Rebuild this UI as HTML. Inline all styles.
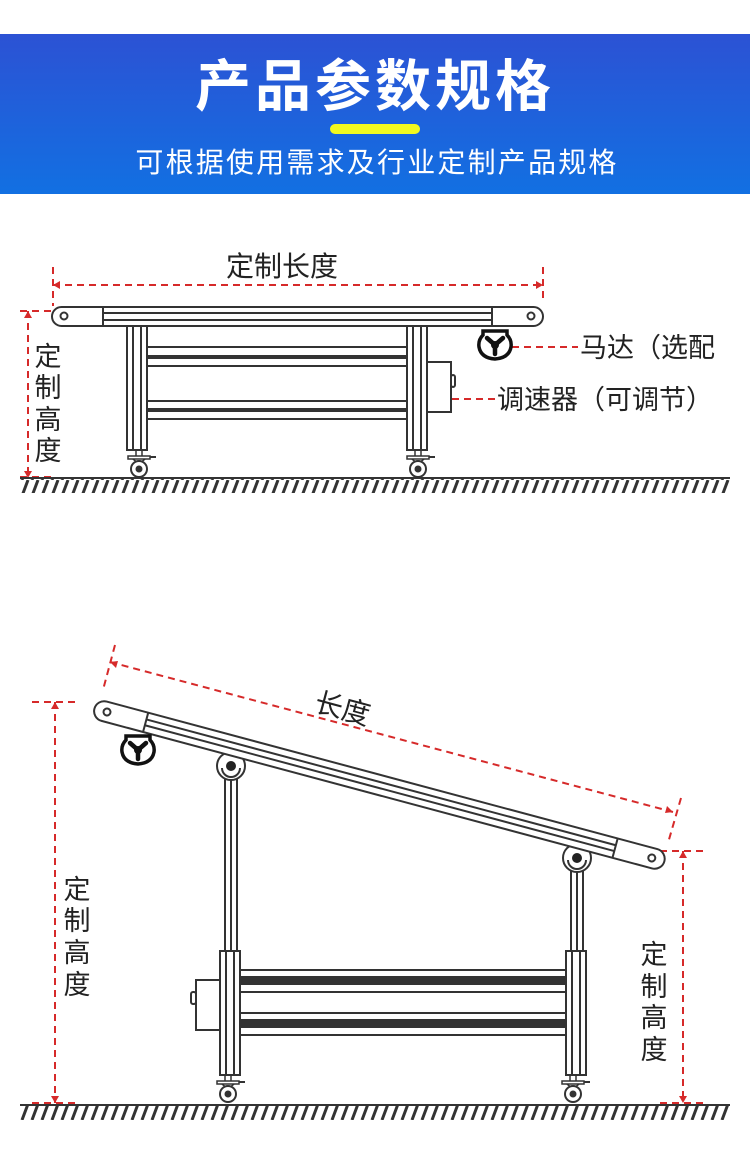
<!DOCTYPE html>
<html><head><meta charset="utf-8"><style>
html,body{margin:0;padding:0;background:#fff;}
svg{display:block;}
text{font-family:"Liberation Sans","Noto Sans CJK SC",sans-serif;}
</style></head><body>
<svg width="750" height="1168" viewBox="0 0 750 1168" xmlns="http://www.w3.org/2000/svg">
<defs>
<linearGradient id="hg" x1="0" y1="0" x2="0" y2="1"><stop offset="0" stop-color="#2c52d4"/><stop offset="1" stop-color="#1270e2"/></linearGradient>
<pattern id="hatch" width="10" height="16" patternUnits="userSpaceOnUse"><line x1="2" y1="16" x2="8" y2="0" stroke="#333" stroke-width="3"/></pattern>
<g id="caster">
<line x1="-3" y1="0" x2="-3" y2="6" stroke="#333" stroke-width="1.5"/><line x1="3" y1="0" x2="3" y2="6" stroke="#333" stroke-width="1.5"/>
<rect x="-11" y="6" width="22" height="3" fill="#fff" stroke="#333" stroke-width="1.5"/>
<line x1="11" y1="7" x2="17" y2="7" stroke="#333" stroke-width="2"/>
<path d="M-6 9 L0 14 L6 9" fill="none" stroke="#333" stroke-width="1.5"/>
<circle cx="0" cy="19" r="8" fill="#fff" stroke="#333" stroke-width="2"/><circle cx="0" cy="19" r="3.5" fill="#333"/>
</g>
<g id="motor">
<path d="M-12 -13 L12 -13 L12 -9 Q17 -4 16 3 Q14 14 0 15 Q-14 14 -16 3 Q-17 -4 -12 -9 Z" fill="#fff" stroke="#111" stroke-width="3.5"/>
<path d="M0 1 L-8 -6 M0 1 L8 -6 M0 1 L0 10" stroke="#111" stroke-width="4.5" stroke-linecap="round"/>
<circle cx="0" cy="1" r="4" fill="#111"/>
</g>
<g id="pivot">
<circle cx="0" cy="0" r="14" fill="#fff" stroke="#333" stroke-width="2"/>
<path d="M-9 2 A9 9 0 0 0 9 2" fill="none" stroke="#333" stroke-width="2"/>
<circle cx="0" cy="0" r="5" fill="#222"/>
</g>
</defs>
<rect x="0" y="34" width="750" height="160" fill="url(#hg)"/>
<text x="375" y="106" font-size="56" font-weight="bold" fill="#fff" text-anchor="middle" letter-spacing="4">产品参数规格</text>
<rect x="330" y="124" width="90" height="10" rx="5" fill="#f2f91f"/>
<text x="377" y="172" font-size="28" fill="#fff" text-anchor="middle" letter-spacing="2.2">可根据使用需求及行业定制产品规格</text>

<g stroke="#d62a2a" stroke-width="2" stroke-dasharray="7,5" fill="none">
<line x1="53" y1="285" x2="543" y2="285"/>
<line x1="53" y1="267" x2="53" y2="306"/>
<line x1="543" y1="267" x2="543" y2="300"/>
<line x1="28" y1="311" x2="28" y2="478"/>
<line x1="20" y1="311" x2="52" y2="311"/>
<line x1="20" y1="477" x2="52" y2="477"/>
<line x1="512" y1="347" x2="578" y2="347"/>
<line x1="452" y1="399" x2="497" y2="399"/>
</g>
<g fill="#d62a2a"><path d="M53 285 l7 -4 v8z"/><path d="M543 285 l-7 -4 v8z"/><path d="M28 311 l-4 7 h8z"/><path d="M28 478 l-4 -7 h8z"/></g>
<text x="282" y="276" font-size="28" fill="#222" text-anchor="middle">定制长度</text>
<g font-size="27" fill="#222" text-anchor="middle"><text x="48" y="366">定</text><text x="48" y="397">制</text><text x="48" y="429">高</text><text x="48" y="460">度</text></g>
<text x="580" y="357" font-size="27" fill="#222">马达（选配</text>
<text x="497" y="409" font-size="27" fill="#222">调速器（可调节）</text>
<g stroke="#333" stroke-width="2" fill="#fff">
<rect x="127" y="326" width="20" height="124"/><line x1="133" y1="326" x2="133" y2="450"/><line x1="141" y1="326" x2="141" y2="450"/>
<rect x="407" y="326" width="20" height="124"/><line x1="413" y1="326" x2="413" y2="450"/><line x1="421" y1="326" x2="421" y2="450"/>
<rect x="147" y="347" width="260" height="19"/>
<rect x="147" y="401" width="260" height="18"/>
<rect x="427" y="362" width="24" height="50"/><rect x="451" y="375" width="4" height="12" rx="2"/>
<rect x="52" y="307" width="491" height="19" rx="9.5"/>
<line x1="103" y1="307" x2="103" y2="326"/><line x1="492" y1="307" x2="492" y2="326"/>
<line x1="103" y1="313" x2="492" y2="313"/><line x1="103" y1="320" x2="492" y2="320"/>
<circle cx="64" cy="316" r="3.5"/><circle cx="531" cy="316" r="3.5"/>
</g>
<rect x="147" y="355" width="260" height="4" fill="#333"/>
<rect x="147" y="408" width="260" height="4" fill="#333"/>
<use href="#caster" x="139" y="450"/><use href="#caster" x="418" y="450"/>
<use href="#motor" x="495" y="344"/>
<line x1="20" y1="478" x2="730" y2="478" stroke="#333" stroke-width="2"/>
<rect x="20" y="479" width="710" height="14" fill="url(#hatch)"/>

<g stroke="#d62a2a" stroke-width="2" stroke-dasharray="7,5" fill="none">
<line x1="110" y1="662" x2="673" y2="812"/>
<line x1="115" y1="645" x2="103" y2="690"/>
<line x1="681" y1="798" x2="668" y2="843"/>
<line x1="55" y1="702" x2="55" y2="1103"/>
<line x1="32" y1="702" x2="78" y2="702"/>
<line x1="32" y1="1103" x2="78" y2="1103"/>
<line x1="683" y1="851" x2="683" y2="1103"/>
<line x1="660" y1="851" x2="705" y2="851"/>
<line x1="660" y1="1103" x2="705" y2="1103"/>
</g>
<g fill="#d62a2a"><path d="M110 662 l8 -1 l-2 7z"/><path d="M673 812 l-8 1 l2 -7z"/><path d="M55 702 l-4 7 h8z"/><path d="M55 1103 l-4 -7 h8z"/><path d="M683 851 l-4 7 h8z"/><path d="M683 1103 l-4 -7 h8z"/></g>
<text x="0" y="0" font-size="28" fill="#222" text-anchor="middle" transform="translate(340,718) rotate(15)">长度</text>
<g font-size="27" fill="#222" text-anchor="middle"><text x="77" y="899">定</text><text x="77" y="930">制</text><text x="77" y="962">高</text><text x="77" y="994">度</text>
<text x="654" y="964">定</text><text x="654" y="996">制</text><text x="654" y="1027">高</text><text x="654" y="1059">度</text></g>
<g stroke="#333" stroke-width="2" fill="#fff">
<rect x="225" y="776" width="12" height="176"/><line x1="231" y1="776" x2="231" y2="952"/>
<rect x="571" y="868" width="12" height="84"/><line x1="577" y1="868" x2="577" y2="952"/>
<rect x="220" y="951" width="20" height="124"/><line x1="226" y1="951" x2="226" y2="1075"/><line x1="234" y1="951" x2="234" y2="1075"/>
<rect x="566" y="951" width="20" height="124"/><line x1="572" y1="951" x2="572" y2="1075"/><line x1="580" y1="951" x2="580" y2="1075"/>
<rect x="240" y="970" width="326" height="22"/>
<rect x="240" y="1013" width="326" height="22"/>
<rect x="196" y="980" width="24" height="50"/><rect x="191" y="992" width="5" height="12" rx="2"/>
</g>
<rect x="240" y="976" width="326" height="9" fill="#333"/>
<rect x="240" y="1019" width="326" height="9" fill="#333"/>
<use href="#pivot" x="231" y="766"/><use href="#pivot" x="577" y="858"/>
<g transform="translate(107,712) rotate(15)" stroke="#333" stroke-width="2" fill="#fff">
<rect x="-13" y="-10" width="590" height="20" rx="10"/>
<line x1="40" y1="-10" x2="40" y2="10"/><line x1="526" y1="-10" x2="526" y2="10"/>
<line x1="40" y1="-3" x2="526" y2="-3"/><line x1="40" y1="3" x2="526" y2="3"/>
<circle cx="0" cy="0" r="3.5"/><circle cx="564" cy="0" r="3.5"/>
</g>
<use href="#motor" x="138" y="749"/>
<use href="#caster" x="228" y="1075"/><use href="#caster" x="573" y="1075"/>
<line x1="20" y1="1105" x2="730" y2="1105" stroke="#333" stroke-width="2"/>
<rect x="20" y="1106" width="710" height="14" fill="url(#hatch)"/>
</svg>
</body></html>
